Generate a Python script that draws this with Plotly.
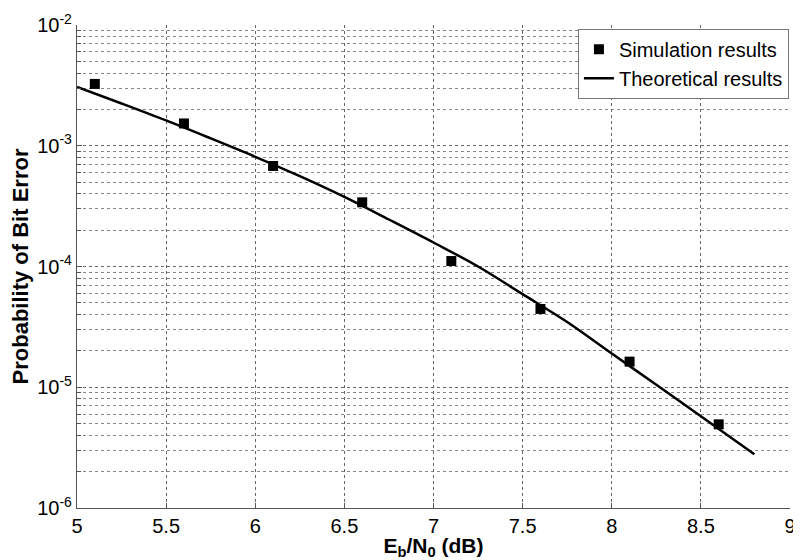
import plotly.graph_objects as go

sim_x = [5.1, 5.6, 6.1, 6.6, 7.1, 7.6, 8.1, 8.6]
sim_ber = [3.25e-3, 1.53e-3, 6.8e-4, 3.4e-4, 1.11e-4, 4.45e-5, 1.63e-5, 4.93e-6]

theo_x = [5.0, 5.25, 5.5, 5.75, 6.0, 6.25, 6.5, 6.75, 7.0, 7.25, 7.5, 7.75, 8.0, 8.25, 8.5, 8.8]
theo_ber = [3.07e-3, 2.24e-3, 1.62e-3, 1.15e-3, 8.1e-4, 5.6e-4, 3.77e-4, 2.45e-4,
            1.58e-4, 1.0e-4, 5.9e-5, 3.47e-5, 1.9e-5, 1.05e-5, 5.75e-6, 2.79e-6]

x_ticks = [5, 5.5, 6, 6.5, 7, 7.5, 8, 8.5, 9]
x_ticklabels = ["5", "5.5", "6", "6.5", "7", "7.5", "8", "8.5", "9"]
y_ticks = [1e-6, 1e-5, 1e-4, 1e-3, 1e-2]
y_ticklabels = ["10<sup>-6</sup>", "10<sup>-5</sup>", "10<sup>-4</sup>", "10<sup>-3</sup>", "10<sup>-2</sup>"]

FONT = "Liberation Sans, Arial, sans-serif"

fig = go.Figure()
fig.add_trace(go.Scatter(
    x=sim_x, y=sim_ber, mode="markers", name="Simulation results",
    marker=dict(symbol="square", size=10, color="black"),
))
fig.add_trace(go.Scatter(
    x=theo_x, y=theo_ber, mode="lines", name="Theoretical results",
    line=dict(color="black", width=2.5, shape="spline"),
))

fig.update_layout(
    template="none",
    width=793, height=552,
    margin=dict(l=69, r=11, t=17, b=52, autoexpand=False),
    paper_bgcolor="white", plot_bgcolor="white",
    font=dict(family=FONT, size=20, color="black"),
    showlegend=True,
    legend=dict(
        x=0.9985, y=0.992, xanchor="right", yanchor="top",
        bgcolor="white", bordercolor="#777", borderwidth=1,
        font=dict(family=FONT, size=20, color="black"),
        tracegroupgap=0, itemwidth=30,
    ),
    xaxis=dict(
        range=[5, 9], tickvals=x_ticks, ticktext=x_ticklabels,
        showgrid=True, gridcolor="#666", griddash="dot", gridwidth=1,
        showline=True, linecolor="#555", linewidth=1.2, mirror=False,
        ticks="inside", ticklen=5, tickcolor="#555",
        zeroline=False, automargin=False,
        tickfont=dict(family=FONT, size=20, color="black"),
        title=dict(text="<b>E<sub>b</sub>/N<sub>0</sub> (dB)</b>", standoff=0,
                   font=dict(family=FONT, size=21, color="black")),
    ),
    yaxis=dict(
        type="log", range=[-6, -2], tickvals=y_ticks, ticktext=y_ticklabels,
        showgrid=True, gridcolor="#666", griddash="dot", gridwidth=1,
        showline=True, linecolor="#555", linewidth=1.2, mirror=False,
        ticks="inside", ticklen=5, tickcolor="#555",
        zeroline=False, automargin=False,
        tickfont=dict(family=FONT, size=20, color="black"),
        minor=dict(showgrid=True, gridcolor="#888", griddash="dot", gridwidth=1,
                   ticks="inside", ticklen=4, tickcolor="#555",
                   tickvals=[m * 10 ** e for e in range(-6, -2) for m in range(2, 10)]),
        title=dict(text="<b>Probability of Bit Error</b>", standoff=4,
                   font=dict(family=FONT, size=22, color="black")),
    ),
)

fig.write_html("out.html")
